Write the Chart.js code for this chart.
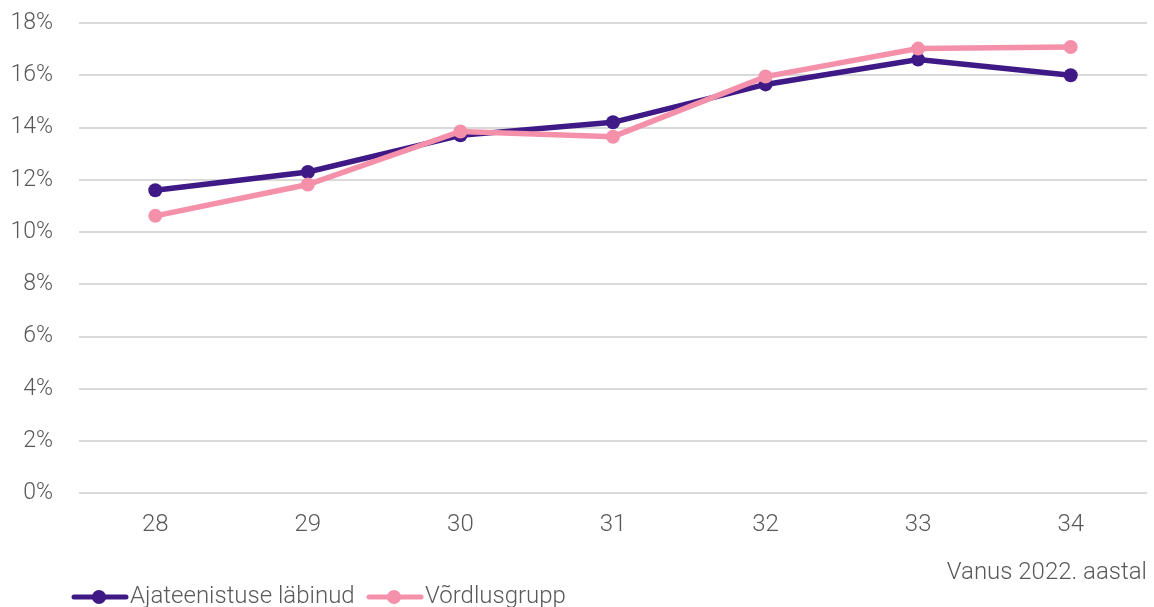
<!DOCTYPE html>
<html>
<head>
<meta charset="utf-8">
<script src="https://cdn.jsdelivr.net/npm/chart.js@4.4.0/dist/chart.umd.min.js"></script>
<style>
html,body{margin:0;padding:0;background:#fff;}
#wrap{width:1154px;height:607px;position:relative;}
</style>
</head>
<body>
<div id="wrap"><canvas id="c"></canvas></div>
<script>
const categories = ['28','29','30','31','32','33','34'];
const ajateenistus = [11.6, 12.3, 13.7, 14.2, 15.65, 16.6, 16.0];
const vordlus = [10.62, 11.82, 13.85, 13.65, 15.95, 17.02, 17.08];
const seriesNames = ['Ajateenistuse läbinud', 'Võrdlusgrupp'];
const xTitle = 'Vanus 2022. aastal';

const PURPLE = '#3f1a87';
const PINK = '#f590ab';
const TXT = '#595959';
const FONT = 'Roboto';

// custom legend (line + circle marker), drawn below the axis title
const legendPlugin = {
  id: 'customLegend',
  afterDraw(chart){
    const ctx = chart.ctx;
    const y = 597;
    const items = [
      {x: 72, color: PURPLE, text: chart.data.datasets[0].label},
      {x: 367, color: PINK, text: chart.data.datasets[1].label}
    ];
    ctx.save();
    items.forEach(it => {
      ctx.strokeStyle = it.color; ctx.lineWidth = 5; ctx.lineCap = 'round';
      ctx.beginPath(); ctx.moveTo(it.x + 2, y); ctx.lineTo(it.x + 54, y); ctx.stroke();
      ctx.fillStyle = it.color;
      ctx.beginPath(); ctx.arc(it.x + 27, y, 7, 0, Math.PI*2); ctx.fill();
      ctx.fillStyle = TXT;
      ctx.font = '300 24px ' + FONT;
      ctx.textBaseline = 'middle';
      ctx.textAlign = 'left';
      ctx.fillText(it.text, it.x + 58, y);
    });
    ctx.restore();
  }
};

Chart.defaults.font.family = FONT;
Chart.defaults.font.weight = 300;
Chart.defaults.color = TXT;

new Chart(document.getElementById('c'), {
  type: 'line',
  data: {
    labels: categories,
    datasets: [
      {label: seriesNames[0], data: ajateenistus, borderColor: PURPLE, backgroundColor: PURPLE,
       borderWidth: 5.5, pointRadius: 7, pointHoverRadius: 7, pointBorderWidth: 0, order: 1, tension: 0},
      {label: seriesNames[1], data: vordlus, borderColor: PINK, backgroundColor: PINK,
       borderWidth: 5.5, pointRadius: 7, pointHoverRadius: 7, pointBorderWidth: 0, order: 0, tension: 0}
    ]
  },
  options: {
    responsive: true,
    maintainAspectRatio: false,
    animation: false,
    layout: {padding: {top: 23, right: 6, left: 0, bottom: 20}},
    plugins: {
      tooltip: {enabled: false},
      legend: {display: false}
    },
    scales: {
      x: {
        offset: true,
        grid: {display: false, drawTicks: false},
        border: {display: false},
        ticks: {font: {size: 24, weight: 300}, color: TXT, padding: 17},
        title: {display: true, text: xTitle, align: 'end', font: {size: 24, weight: 300}, color: TXT, padding: {top: 2, bottom: 0}}
      },
      y: {
        min: 0, max: 18,
        grid: {color: '#d9d9d9', lineWidth: 2, drawTicks: false},
        border: {display: false},
        afterFit(scale){ scale.width = 79; scale.paddingTop = 0; scale.paddingBottom = 0; },
        ticks: {stepSize: 2, font: {size: 23, weight: 300}, color: TXT, padding: 26,
          callback: v => v + '%'}
      }
    }
  },
  plugins: [legendPlugin]
});
</script>
</body>
</html>
